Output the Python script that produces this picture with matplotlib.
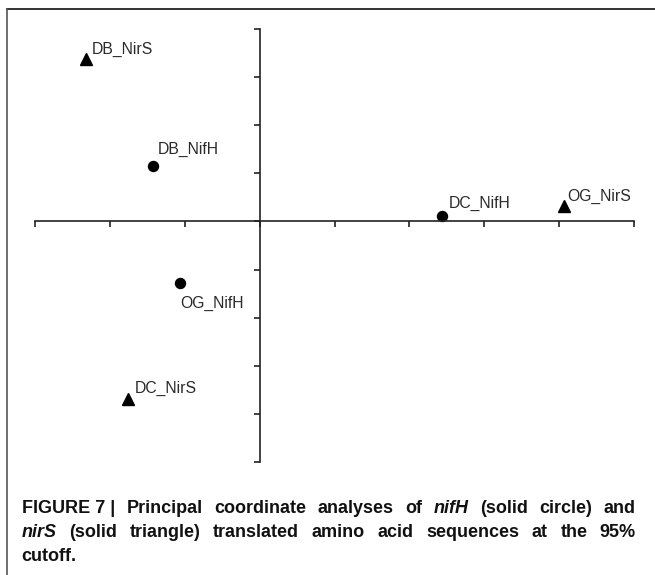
import matplotlib
matplotlib.use("Agg")
import matplotlib.pyplot as plt
from matplotlib import font_manager
from matplotlib.lines import Line2D

# ---- data ----
labels = ["DB_NirS", "DB_NifH", "DC_NifH", "OG_NirS", "OG_NifH", "DC_NirS"]
x_vals = [-2.32, -1.42, 2.44, 4.07, -1.07, -1.76]
y_vals = [3.38, 1.15, 0.11, 0.33, -1.28, -3.69]
markers = ["^", "o", "o", "^", "o", "^"]
x_ticks = [-3, -2, -1, 0, 1, 2, 3, 4, 5]
y_ticks = [-5, -4, -3, -2, -1, 0, 1, 2, 3, 4]
# label offsets in pixels (dx, dy) relative to the point
label_offsets = [(6, 5), (4, 12), (6, 8), (3, 5), (1, -25), (7, 6)]

caption_lines = [
    [("FIGURE 7 |", "n"), ("Principal", "n"), ("coordinate", "n"),
     ("analyses", "n"), ("of", "n"), ("nifH", "i"), ("(solid", "n"), ("circle)", "n"), ("and", "n")],
    [("nirS", "i"), ("(solid", "n"), ("triangle)", "n"), ("translated", "n"), ("amino", "n"),
     ("acid", "n"), ("sequences", "n"), ("at", "n"), ("the", "n"), ("95%", "n")],
    [("cutoff.", "n")],
]

W, H, DPI = 655, 575, 100
fig = plt.figure(figsize=(W / DPI, H / DPI), dpi=DPI)
fig.patch.set_facecolor("white")

def has_font(name):
    try:
        font_manager.findfont(font_manager.FontProperties(family=name), fallback_to_default=False)
        return True
    except Exception:
        return False

cap_family = "Liberation Sans Narrow" if has_font("Liberation Sans Narrow") else "Liberation Sans"
cap_size = 14.5 if cap_family == "Liberation Sans Narrow" else 13

# plot area (pixels)
px_left, px_right, px_top, px_bottom = 35, 634, 29, 462
ax = fig.add_axes([px_left / W, 1 - px_bottom / H, (px_right - px_left) / W, (px_bottom - px_top) / H])
ax.set_xlim(x_ticks[0], x_ticks[-1])
ax.set_ylim(y_ticks[0], y_ticks[-1])
ax.patch.set_alpha(0)
for s in ["top", "right"]:
    ax.spines[s].set_visible(False)
axis_color = "#222222"
for s in ["left", "bottom"]:
    ax.spines[s].set_position(("data", 0))
    ax.spines[s].set_color(axis_color)
    ax.spines[s].set_linewidth(1.2)
ax.set_xticks(x_ticks)
ax.set_yticks(y_ticks)
ax.set_xticklabels([])
ax.set_yticklabels([])
ax.tick_params(axis="both", direction="out", length=4.3, width=1.2, color=axis_color)

for xv, yv, m, lab, (dx, dy) in zip(x_vals, y_vals, markers, labels, label_offsets):
    ax.plot([xv], [yv], marker=m, color="black", markersize=8 if m == "^" else 7.2,
            linestyle="none", clip_on=False)
    ax.annotate(lab, (xv, yv), xytext=(dx * 72 / DPI, dy * 72 / DPI), textcoords="offset points",
                ha="left", va="baseline", fontsize=11.3, family="Liberation Sans", color="#2a2a2a")

# border lines
fig.add_artist(Line2D([7 / W, 1], [1 - 8.5 / H, 1 - 8.5 / H], color="#333333", lw=1.4,
                      transform=fig.transFigure))
fig.add_artist(Line2D([7 / W, 7 / W], [1 - 8.5 / H, 0], color="#555555", lw=1.2,
                      transform=fig.transFigure))

# caption (justified)
cap_left, cap_right = 21.5, 636
baselines = [513, 537, 561]
renderer = fig.canvas.get_renderer()
for li, (words, base) in enumerate(zip(caption_lines, baselines)):
    texts = []
    for w, st in words:
        t = fig.text(0, 1 - base / H, w, fontsize=cap_size, family=cap_family, fontweight="bold",
                     style="italic" if st == "i" else "normal", color="#111111",
                     ha="left", va="baseline")
        texts.append(t)
    widths = [t.get_window_extent(renderer).width for t in texts]
    if li < len(caption_lines) - 1 and len(texts) > 1:
        gap = (cap_right - cap_left - sum(widths)) / (len(texts) - 1)
    else:
        gap = 4
    x = cap_left
    for t, wdt in zip(texts, widths):
        t.set_x(x / W)
        x += wdt + gap

fig.savefig("out.png", dpi=DPI)
